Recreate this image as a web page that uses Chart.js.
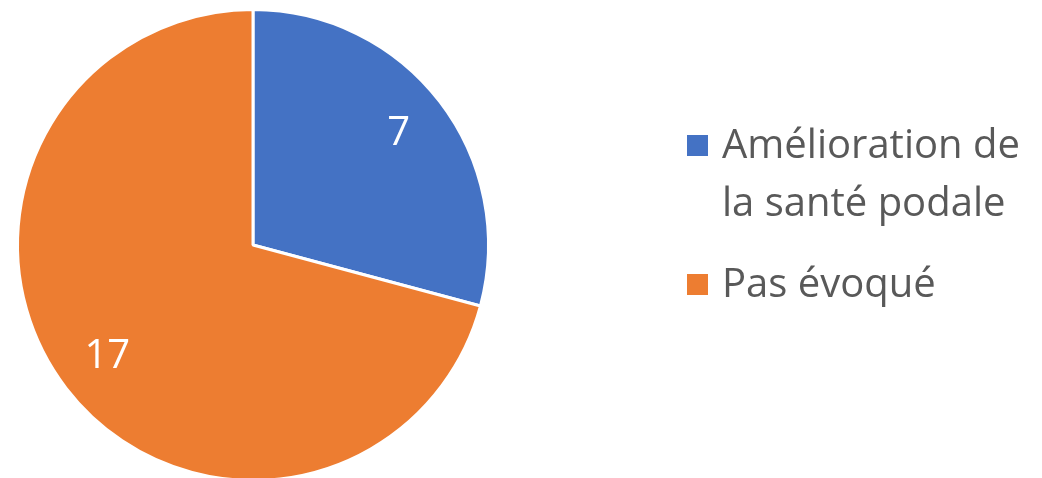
<!DOCTYPE html>
<html>
<head>
<meta charset="utf-8">
<script src="https://cdn.jsdelivr.net/npm/chart.js@4.4.1/dist/chart.umd.min.js"></script>
<style>
  html, body { margin: 0; padding: 0; background: #fff; overflow: hidden; }
  body { width: 1042px; height: 478px; position: relative; }
  #wrap { position: absolute; left: 0; top: 0; width: 1042px; height: 500px; }
  #legend { position: absolute; left: 687px; top: 114px; font-family: "Open Sans", "Noto Sans", sans-serif;
            font-size: 40px; line-height: 58px; color: #595959; }
  .item { display: flex; align-items: flex-start; margin-bottom: 23px; }
  .box { width: 21px; height: 21px; margin-top: 21px; margin-right: 14px; flex: none; }
</style>
</head>
<body>
<div id="wrap"><canvas id="pie"></canvas></div>
<div id="legend"></div>
<script>
// values
const categories = [["Amélioration de", "la santé podale"], "Pas évoqué"];
const counts = [7, 17];
const colors = ["#4472C4", "#ED7D31"];

// white value labels inside each slice, placed on the mid-angle
const sliceLabels = {
  id: "sliceLabels",
  afterDatasetsDraw(chart) {
    const { ctx } = chart;
    const meta = chart.getDatasetMeta(0);
    ctx.save();
    ctx.fillStyle = "#ffffff";
    ctx.font = "40px 'Open Sans', 'Noto Sans', sans-serif";
    ctx.textAlign = "center";
    ctx.textBaseline = "middle";
    meta.data.forEach((arc, i) => {
      const p = arc.getProps(["x", "y", "startAngle", "endAngle", "outerRadius"], true);
      const mid = (p.startAngle + p.endAngle) / 2;
      const r = p.outerRadius * 0.78;
      ctx.fillText(String(counts[i]), p.x + Math.cos(mid) * r, p.y + Math.sin(mid) * r);
    });
    ctx.restore();
  }
};

new Chart(document.getElementById("pie"), {
  type: "pie",
  data: {
    labels: categories,
    datasets: [{ data: counts, backgroundColor: colors, borderColor: "#ffffff", borderWidth: 3, hoverOffset: 0 }]
  },
  options: {
    responsive: true, maintainAspectRatio: false, animation: false,
    layout: { padding: { left: 16, right: 552, top: 8, bottom: 18 } },
    plugins: { legend: { display: false }, tooltip: { enabled: false } }
  },
  plugins: [sliceLabels]
});

// legend as plain text next to the pie
const legend = document.getElementById("legend");
categories.forEach((c, i) => {
  const item = document.createElement("div");
  item.className = "item";
  const box = document.createElement("span");
  box.className = "box";
  box.style.background = colors[i];
  const txt = document.createElement("span");
  txt.innerHTML = [].concat(c).join("<br>");
  item.appendChild(box); item.appendChild(txt);
  legend.appendChild(item);
});
</script>
</body>
</html>
